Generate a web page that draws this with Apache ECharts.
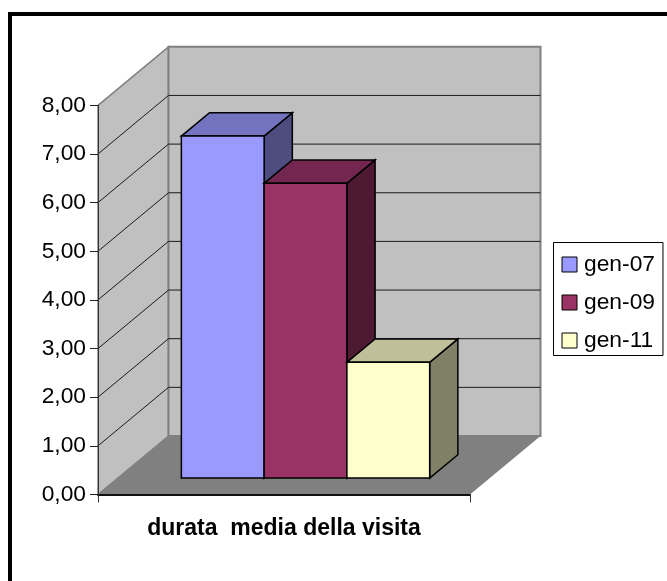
<!DOCTYPE html>
<html>
<head>
<meta charset="utf-8">
<style>html,body{margin:0;padding:0;background:#fff}#c{width:667px;height:581px}</style>
<script src="https://cdn.jsdelivr.net/npm/echarts@6/dist/echarts.min.js"></script>
</head>
<body>
<div id="c"></div>
<script>
// Average visit duration, three January surveys
const categories = ['durata  media della visita'];
const seriesNames = ['gen-07', 'gen-09', 'gen-11'];
const durata = [7.03, 6.06, 2.38];
const yTicks = [1, 2, 3, 4, 5, 6, 7];
const frontColors = ['#9999FF', '#993366', '#FFFFCC'];
const topColors = ['#7373BF', '#732650', '#BFBF99'];
const sideColors = ['#4D4D80', '#4D1933', '#808066'];

// Oblique projection used for the box: pixels per full depth of the plot
const DEPTH_X = 70.5, DEPTH_Y = -58.5;
const BAR_PLANE = 0.28, BAR_DEPTH = 0.4;
const BAR_START = 0.171, BAR_WIDTH = 0.2225;

const poly = (points, fill, stroke, lineWidth) => ({
  type: 'polygon',
  shape: { points },
  style: { fill, stroke: stroke || null, lineWidth: lineWidth || 0 }
});

function renderBox(params, api) {
  const band = api.size([1, 0])[0];
  const x0 = api.coord([0, 0])[0] - band / 2;
  const x1 = x0 + band;
  const yb = api.coord([0, 0])[1];
  const yt = api.coord([0, 8])[1];
  const dx = DEPTH_X, dy = DEPTH_Y;
  const children = [
    poly([[x0, yb], [x1, yb], [x1 + dx, yb + dy], [x0 + dx, yb + dy]], '#808080'),
    poly([[x0, yb], [x0, yt], [x0 + dx, yt + dy], [x0 + dx, yb + dy]], '#C0C0C0', '#808080', 1.5),
    poly([[x0 + dx, yt + dy], [x1 + dx, yt + dy], [x1 + dx, yb + dy], [x0 + dx, yb + dy]], '#C0C0C0', '#808080', 2)
  ];
  yTicks.forEach(t => {
    const y = api.coord([0, t])[1];
    children.push({
      type: 'polyline',
      shape: { points: [[x0, y], [x0 + dx, y + dy], [x1 + dx, y + dy]] },
      style: { fill: null, stroke: '#1a1a1a', lineWidth: 1 }
    });
  });
  return { type: 'group', children };
}

function renderBar(i) {
  return function (params, api) {
    const band = api.size([1, 0])[0];
    const x0 = api.coord([0, 0])[0] - band / 2;
    const yb = api.coord([0, 0])[1] + DEPTH_Y * BAR_PLANE;
    const yt = api.coord([0, api.value(1)])[1] + DEPTH_Y * BAR_PLANE;
    const l = x0 + DEPTH_X * BAR_PLANE + band * (BAR_START + i * BAR_WIDTH);
    const r = l + band * BAR_WIDTH;
    const dx = DEPTH_X * BAR_DEPTH, dy = DEPTH_Y * BAR_DEPTH;
    const edge = { stroke: '#000', lineWidth: 1.5 };
    return {
      type: 'group',
      children: [
        poly([[r, yb], [r, yt], [r + dx, yt + dy], [r + dx, yb + dy]], sideColors[i], edge.stroke, edge.lineWidth),
        poly([[l, yt], [r, yt], [r + dx, yt + dy], [l + dx, yt + dy]], topColors[i], edge.stroke, edge.lineWidth),
        poly([[l, yb], [r, yb], [r, yt], [l, yt]], frontColors[i], edge.stroke, edge.lineWidth)
      ]
    };
  };
}

const chart = echarts.init(document.getElementById('c'), null, { renderer: 'canvas' });
const font = 'Liberation Sans, Arial, sans-serif';

chart.setOption({
  animation: false,
  backgroundColor: '#fff',
  grid: { left: 98, top: 105.3, width: 372, height: 389.2 },
  graphic: [
    { type: 'rect', shape: { x: 10, y: 14, width: 700, height: 620 },
      style: { fill: null, stroke: '#000', lineWidth: 4 }, silent: true }
  ],
  legend: {
    data: seriesNames,
    orient: 'vertical',
    left: 553.5,
    top: 242.5,
    padding: [9, 8, 2, 8],
    itemWidth: 15,
    itemHeight: 15,
    itemGap: 12,
    icon: 'rect',
    backgroundColor: '#fff',
    borderColor: '#000',
    borderWidth: 1,
    itemStyle: { borderColor: '#000', borderWidth: 1 },
    textStyle: { fontFamily: font, fontSize: 22.8, color: '#000', padding: [0, 0, 0, 2], lineHeight: 26 }
  },
  xAxis: {
    type: 'category',
    data: categories,
    z: 5,
    axisLine: { lineStyle: { color: '#111', width: 2 } },
    axisTick: { show: true, length: 8, lineStyle: { color: '#333', width: 1 } },
    axisLabel: { fontFamily: font, fontSize: 23, fontWeight: 'bold', color: '#000', margin: 23 },
    splitLine: { show: false }
  },
  yAxis: {
    type: 'value',
    min: 0,
    max: 8,
    interval: 1,
    z: 5,
    axisLine: { show: true, lineStyle: { color: '#333', width: 1 } },
    axisTick: { show: true, length: 8, lineStyle: { color: '#222', width: 1 } },
    axisLabel: {
      fontFamily: font, fontSize: 22.8, color: '#000', margin: 12,
      formatter: v => v.toFixed(2).replace('.', ',')
    },
    splitLine: { show: false }
  },
  series: [
    { type: 'custom', name: 'box', silent: true, z: 1, clip: false,
      data: [[0, 0]], encode: { x: 0, y: 1 }, renderItem: renderBox },
    ...seriesNames.map((name, i) => ({
      type: 'custom',
      name,
      z: 2 + i,
      clip: false,
      itemStyle: { color: frontColors[i] },
      data: [[0, durata[i]]],
      encode: { x: 0, y: 1 },
      renderItem: renderBar(i)
    }))
  ]
});
</script>
</body>
</html>
